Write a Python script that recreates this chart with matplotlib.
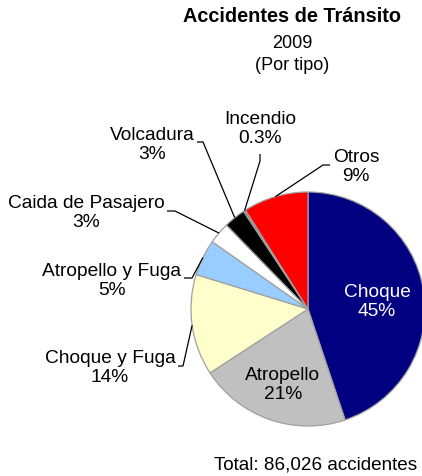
import numpy as np
import matplotlib
matplotlib.use("Agg")
import matplotlib.pyplot as plt

plt.rcParams['font.family'] = ['Liberation Sans', 'DejaVu Sans']

categories = ["Choque", "Atropello", "Choque y Fuga", "Atropello y Fuga",
              "Caida de Pasajero", "Volcadura", "Incendio", "Otros"]
values = [45, 21, 14, 5, 3, 3, 0.3, 9]
pct_labels = ["45%", "21%", "14%", "5%", "3%", "3%", "0.3%", "9%"]
colors = ["#000080", "#c0c0c0", "#ffffcc", "#99ccff", "#ffffff", "#000000", "#808080", "#ff0000"]
title = "Accidentes de Tránsito"
subtitle1 = "2009"
subtitle2 = "(Por tipo)"
footer = "Total: 86,026 accidentes"

W, H = 422, 477
fig = plt.figure(figsize=(W / 100, H / 100), dpi=100)
ax = fig.add_axes([0, 0, 1, 1])

def Y(y):
    return H - y

cx, cy, R = 308, Y(310), 117
wedges, _ = ax.pie(values, colors=colors, startangle=90, counterclock=False,
                   center=(cx, cy), radius=R, frame=True,
                   wedgeprops=dict(edgecolor="#a0a0a0", linewidth=0.9))
ax.set_xlim(0, W)
ax.set_ylim(0, H)
ax.set_aspect('equal')
ax.axis('off')

fs = 13.8
ls = 1.12
# inside labels
inside = {0: (377, 302, "white"), 1: (283, 385, "black")}
for i, (x, y, c) in inside.items():
    ax.text(x, Y(y), f"{categories[i]}\n{pct_labels[i]}", ha='center', va='center',
            color=c, fontsize=fs, linespacing=ls)

# outside labels: text center, leader polyline (label end -> elbow)
outside = {
    2: ((110, 368), [(178, 367), (183, 367)]),
    3: ((112, 281), [(184, 279), (192, 279)]),
    4: ((86, 213), [(167, 212), (175, 212)]),
    5: ((152, 145), [(197, 143), (203, 143)]),
    6: ((260, 129), [(260, 155), (260, 162)]),
    7: ((356, 167), [(330, 166), (323, 166)]),
}
for i, ((x, y), pts) in outside.items():
    ax.text(x, Y(y), f"{categories[i]}\n{pct_labels[i]}", ha='center', va='center',
            color='black', fontsize=fs, linespacing=ls)
    w = wedges[i]
    mid = np.deg2rad((w.theta1 + w.theta2) / 2)
    ax_pt = (cx + R * np.cos(mid), cy + R * np.sin(mid))
    xs = [p[0] for p in pts] + [ax_pt[0]]
    ys = [Y(p[1]) for p in pts] + [ax_pt[1]]
    ax.plot(xs, ys, color='black', linewidth=0.9, solid_capstyle='butt')

ax.text(292, Y(17), title, ha='center', va='center', fontsize=14.3, fontweight='bold')
ax.text(292, Y(43), subtitle1, ha='center', va='center', fontsize=13)
ax.text(292, Y(66), subtitle2, ha='center', va='center', fontsize=13)
ax.text(316, Y(465), footer, ha='center', va='center', fontsize=13.6)

fig.savefig("out.png", dpi=100)
